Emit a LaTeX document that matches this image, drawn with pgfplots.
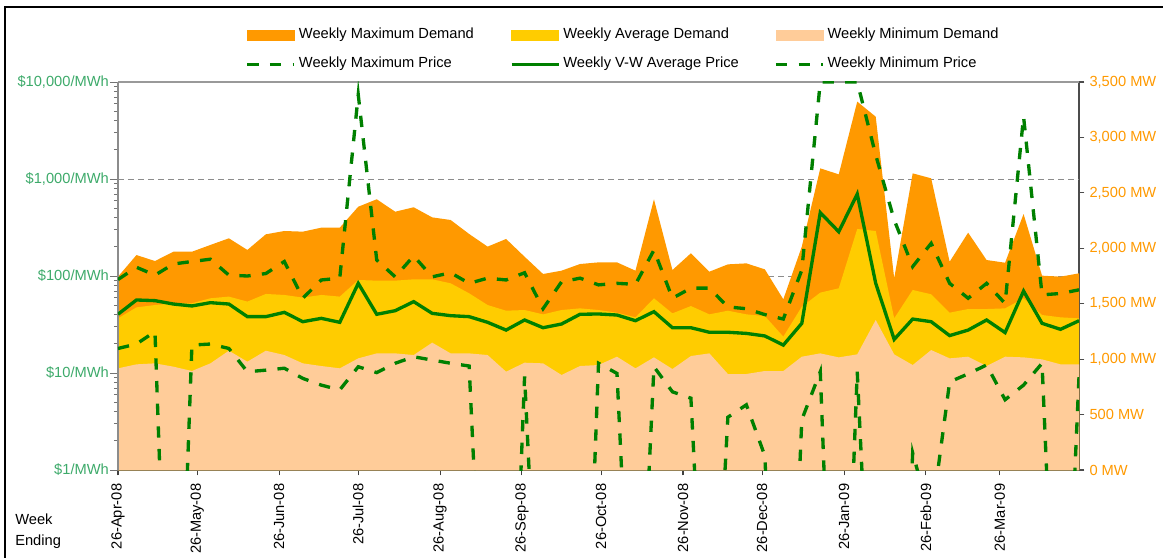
\documentclass[border=0pt]{standalone}
\usepackage{fontspec}
\setmainfont{Liberation Sans}
\usepackage{pgfplots}
\usepackage{pgfplotstable}
\pgfplotsset{compat=1.18}

\definecolor{maxdem}{HTML}{FF9900}
\definecolor{avgdem}{HTML}{FFCC00}
\definecolor{mindem}{HTML}{FFCC99}
\definecolor{pricegreen}{HTML}{008000}
\definecolor{lblgreen}{HTML}{3DAA6A}
\definecolor{lblorange}{HTML}{FF9900}

% day = days after 26-Apr-08 (week ending), demand in MW, prices in $/MWh
\pgfplotstableread{
day maxd avgd mind maxp avgp minp
0   1744 1368 917  92    40.3 17.9
7   1939 1467 953  123   56.6 19.9
14  1885 1488 962  102   55.7 26.7
21  1969 1504 932  133   51.4 0.0001
28  1969 1504 893  141   49.1 19.4
35  2030 1549 962  149   53.1 19.9
42  2090 1564 1076 102   51.4 17.9
49  1985 1519 977  100   38.1 10.3
56  2126 1588 1076 106   38.1 10.7
63  2156 1579 1037 141   42.2 11.2
70  2150 1555 962  59    33.8 8.8
77  2186 1579 938  91    36.6 7.5
84  2186 1564 917  95    33.3 6.7
91  2375 1714 1007 7400  84.0 11.6
98  2442 1708 1052 146   40.3 10.1
105 2330 1708 1052 98    43.9 12.6
112 2370 1720 1037 161   54.4 14.7
119 2279 1720 1149 98    41.2 13.6
126 2255 1684 1052 108   39.0 12.6
133 2129 1594 1052 84    38.1 11.8
140 2015 1488 1037 95    33.3 0.001
147 2084 1437 887  91    27.7 0.0001
154 1924 1443 968  108   35.2 9.2
161 1768 1404 962  46    29.3 0.001
168 1798 1443 857  87    32.0 0.0001
175 1858 1458 938  95    40.3 0.0001
182 1873 1443 947  81    40.6 12.6
189 1873 1419 1022 84    39.6 9.9
196 1798 1377 917  82    34.6 0.001
203 2442 1549 1016 185   42.9 11.6
210 1804 1413 911  59    29.3 6.4
217 1955 1479 1028 75    29.3 5.5
224 1789 1404 1052 75    26.3 0.001
231 1855 1437 866  48    26.3 3.5
238 1864 1404 866  46    25.6 4.7
245 1810 1389 893  40    24.1 1.4
252 1540 1203 893  36    19.4 0.0001
259 2015 1473 1022 115   32.5 3.3
266 2721 1600 1052 10000 450  10.3
273 2667 1639 1016 10000 286  0.0001
280 3323 2174 1043 10000 700  10.3
287 3187 2156 1353 1767  84   0.001
294 1729 1368 1043 378   22.2 0.0001
301 2676 1624 947  125   36.0 1.5
308 2631 1585 1082 217   33.8 0.3
315 1879 1419 1007 84    24.3 8.1
322 2141 1452 1022 59    27.7 9.8
329 1894 1452 938  84    35.2 12.1
336 1870 1458 1022 52    26.1 5.3
343 2309 1549 1016 4400  70   7.5
350 1753 1398 998  64    32.5 12.6
357 1744 1377 953  66    28.2 0.0004
364 1774 1368 953  72    34.6 9.2
}\weekly

\pgfplotsset{
  chartbase/.style={
    at={(0pt,0pt)}, anchor=south west, scale only axis,
    width=720.75pt, height=291pt,
    xmin=0, xmax=364,
    tick label style={font=\fontsize{11}{13}\selectfont},
    tick align=outside,
  },
}

\begin{document}
\fontsize{11}{13}\selectfont
\begin{tikzpicture}
\path[use as bounding box] (-88.5pt,-65.25pt) rectangle (783.75pt,352.5pt);
\draw[line width=1pt] (-84.75pt,-80pt) -- (-84.75pt,347.25pt) -- (800pt,347.25pt);

% demand areas on the right hand MW axis
\begin{axis}[chartbase,
  ymin=0, ymax=3500,
  axis x line*=bottom, axis y line*=right,
  x axis line style={color=black!60, line width=1.5pt},
  y axis line style={color=black!70, line width=0.8pt},
  xtick={0,30,61,91,122,153,183,214,244,275,306,334},
  xticklabels={26-Apr-08,26-May-08,26-Jun-08,26-Jul-08,26-Aug-08,26-Sep-08,
    26-Oct-08,26-Nov-08,26-Dec-08,26-Jan-09,26-Feb-09,26-Mar-09},
  xticklabel style={rotate=90, anchor=east},
  xticklabel shift=2.5pt,
  x tick style={color=black!75, line width=0.8pt},
  major tick length=4pt,
  ytick={0,500,1000,1500,2000,2500,3000,3500},
  yticklabels={0 MW,500 MW,{1,000 MW},{1,500 MW},{2,000 MW},{2,500 MW},{3,000 MW},{3,500 MW}},
  yticklabel style={color=lblorange},
  y tick style={color=black!70, line width=0.8pt},
  extra y ticks={875,1750,2625},
  extra y tick labels={},
  extra y tick style={grid=major, major tick length=0pt,
    major grid style={color=black!45, line width=0.7pt, dash pattern=on 4.5pt off 3pt}},
]
\addplot[fill=maxdem, draw=none] table[x=day, y=maxd] {\weekly} \closedcycle;
\addplot[fill=avgdem, draw=none] table[x=day, y=avgd] {\weekly} \closedcycle;
\addplot[fill=mindem, draw=none] table[x=day, y=mind] {\weekly} \closedcycle;
\end{axis}

% prices on the left hand log axis
\begin{axis}[chartbase,
  ymode=log, ymin=1, ymax=10000,
  axis x line*=top, axis y line*=left,
  xtick=\empty,
  x axis line style={color=black!40, line width=0.8pt},
  y axis line style={color=black!45, line width=0.8pt},
  ytick={1,10,100,1000,10000},
  yticklabels={\$1/MWh,\$10/MWh,\$100/MWh,{\$1,000/MWh},{\$10,000/MWh}},
  yticklabel style={color=lblgreen},
  yticklabel shift=-3pt,
  y tick style={color=black!55, line width=0.6pt},
  major tick length=6pt, minor tick length=3pt,
  legend columns=3,
  legend image code/.code={\draw[#1] (0pt,0pt) -- (35.25pt,0pt);},
  legend style={at={(0.1325,1.1392)}, anchor=north west, draw=none, fill=none,
    inner sep=0pt, column sep=0pt, row sep=11.25pt,
    nodes={inner sep=0pt, text height=8pt, text depth=2.5pt},
    font=\fontsize{11}{13}\selectfont},
]
\addlegendimage{legend image code/.code={\fill[maxdem] (0pt,-3.75pt) rectangle (35.25pt,3.75pt);}}
\addlegendentry{\makebox[160.5pt][l]{\hspace{2.25pt}Weekly Maximum Demand}}
\addlegendimage{legend image code/.code={\fill[avgdem] (0pt,-3.75pt) rectangle (35.25pt,3.75pt);}}
\addlegendentry{\makebox[160.5pt][l]{\hspace{2.25pt}Weekly Average Demand}}
\addlegendimage{legend image code/.code={\fill[mindem] (0pt,-3.75pt) rectangle (35.25pt,3.75pt);}}
\addlegendentry{\makebox[160.5pt][l]{\hspace{2.25pt}Weekly Minimum Demand}}
\addplot[pricegreen, line width=2.5pt, dash pattern=on 8.5pt off 8.5pt]
  table[x=day, y=maxp] {\weekly};
\addlegendentry{\makebox[160.5pt][l]{\hspace{2.25pt}Weekly Maximum Price}}
\addplot[pricegreen, line width=2.5pt]
  table[x=day, y=avgp] {\weekly};
\addlegendentry{\makebox[160.5pt][l]{\hspace{2.25pt}Weekly V-W Average Price}}
\addplot[pricegreen, line width=2.5pt, dash pattern=on 8.5pt off 8.5pt]
  table[x=day, y=minp] {\weekly};
\addlegendentry{\makebox[160.5pt][l]{\hspace{2.25pt}Weekly Minimum Price}}
\end{axis}

\node[anchor=west, inner sep=0pt] at (-77.25pt,-36.75pt) {Week};
\node[anchor=west, inner sep=0pt] at (-77.25pt,-54pt) {Ending};
\end{tikzpicture}
\end{document}
